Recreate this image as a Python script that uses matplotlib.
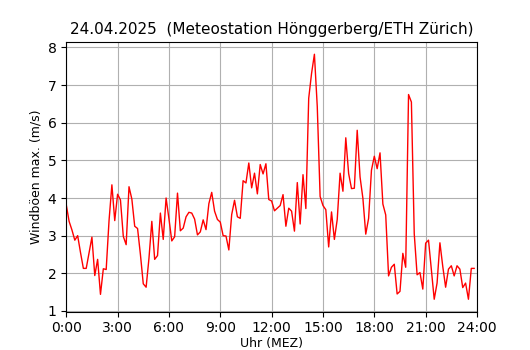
import numpy as np
import matplotlib
matplotlib.use('Agg')
import matplotlib.pyplot as plt

# Windböen, 10-Minuten-Werte ab 0:00
gusts = [
    3.82, 3.38, 3.15, 2.88, 3.00, 2.55, 2.13, 2.13, 2.55, 2.96,
    1.94, 2.37, 1.44, 2.12, 2.10, 3.40, 4.35, 3.40, 4.10, 3.95,
    2.98, 2.76, 4.30, 3.97, 3.25, 3.19, 2.50, 1.72, 1.63, 2.40,
    3.38, 2.37, 2.47, 3.60, 2.90, 4.00, 3.45, 2.86, 2.97, 4.13,
    3.13, 3.20, 3.50, 3.62, 3.60, 3.44, 3.02, 3.10, 3.42, 3.16,
    3.85, 4.15, 3.65, 3.43, 3.36, 3.00, 2.99, 2.62, 3.56, 3.94,
    3.50, 3.46, 4.46, 4.40, 4.93, 4.27, 4.66, 4.11, 4.89, 4.64,
    4.91, 3.96, 3.92, 3.66, 3.73, 3.80, 4.09, 3.25, 3.73, 3.65,
    3.12, 4.41, 3.31, 4.62, 3.72, 6.65, 7.31, 7.82, 6.43, 4.04,
    3.80, 3.69, 2.70, 3.63, 2.90, 3.43, 4.66, 4.18, 5.60, 4.65,
    4.25, 4.26, 5.80, 4.56, 3.99, 3.04, 3.46, 4.74, 5.11, 4.78,
    5.20, 3.84, 3.55, 1.93, 2.16, 2.24, 1.45, 1.52, 2.53, 2.16,
    6.75, 6.55, 3.05, 1.96, 2.02, 1.58, 2.80, 2.88, 2.09, 1.31,
    1.74, 2.81, 2.18, 1.63, 2.11, 2.20, 1.93, 2.20, 2.11, 1.62,
    1.74, 1.31, 2.13, 2.13,
]
hours = np.arange(len(gusts)) / 6.0
tick_hours = list(range(0, 25, 3))
tick_labels = [f'{h}:00' for h in tick_hours]

fig, ax = plt.subplots(figsize=(5.3, 3.5), dpi=100)
ax.plot(hours, gusts, color='red', lw=1)
ax.set_xlim(0, 24)
ax.set_xticks(tick_hours)
ax.set_xticklabels(tick_labels)
ax.grid(True)
ax.set_xlabel('Uhr (MEZ)', fontsize=9, labelpad=1)
ax.set_ylabel('Windböen max. (m/s)', fontsize=9)
ax.set_title('24.04.2025  (Meteostation Hönggerberg/ETH Zürich)', fontsize=11)
fig.savefig('out.png', dpi=100)
